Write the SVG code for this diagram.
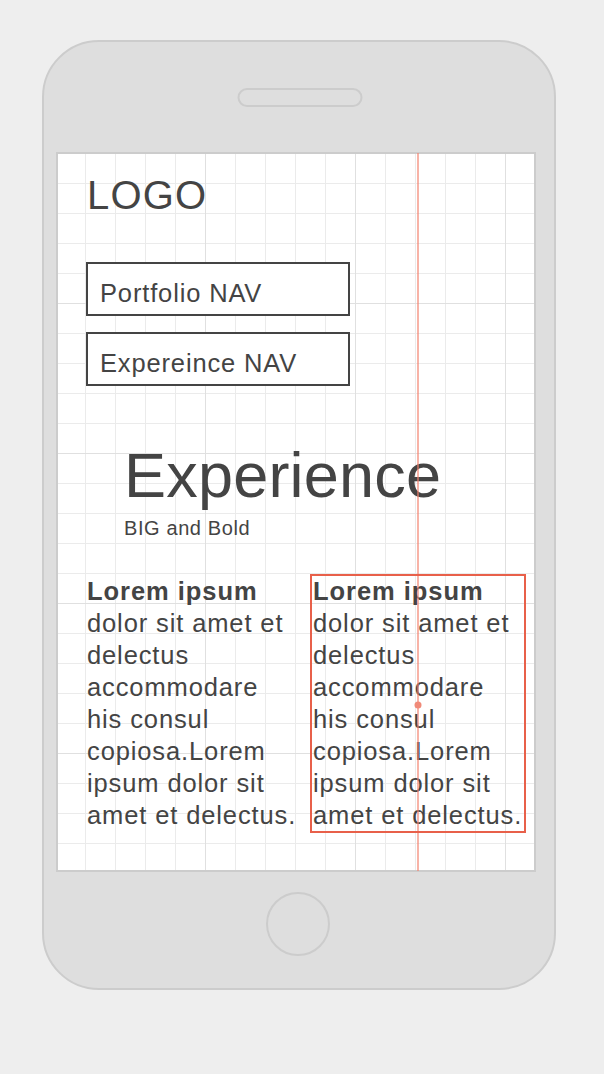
<svg xmlns="http://www.w3.org/2000/svg" width="604" height="1074" viewBox="0 0 604 1074">
  <defs>
    <pattern id="minor" x="55" y="153" width="30" height="30" patternUnits="userSpaceOnUse">
      <path d="M0 0V30M0 0H30" fill="none" stroke="#ebebeb" stroke-width="2"/>
    </pattern>
    <pattern id="major" x="55" y="153" width="150" height="150" patternUnits="userSpaceOnUse">
      <path d="M0 0V150M0 0H150" fill="none" stroke="#e0e0e0" stroke-width="2"/>
    </pattern>
  </defs>
  <style>
    text { font-family: "Liberation Sans", Arial, sans-serif; fill: #444; }
    .nav { fill: #fff; stroke: #444; stroke-width: 2; }
    .label { font-size: 25.5px; letter-spacing: 0.85px; }
    .body { font-size: 25.5px; letter-spacing: 0.88px; }
    .bold { font-weight: bold; letter-spacing: 0.95px; }
  </style>
  <rect width="604" height="1074" fill="#eeeeee"/>
  <!-- device frame -->
  <g id="device">
    <rect x="43" y="41" width="512" height="948" rx="56" fill="#dedede" stroke="#cccccc" stroke-width="2"/>
    <rect x="238.5" y="89" width="123" height="17" rx="8.5" fill="#dedede" stroke="#cccccc" stroke-width="2"/>
    <circle cx="298" cy="924" r="31" fill="#dedede" stroke="#cccccc" stroke-width="2"/>
  </g>
  <!-- screen with grid -->
  <g id="screen">
    <rect x="57" y="153" width="478" height="718" fill="#ffffff"/>
    <rect x="57" y="153" width="478" height="718" fill="url(#minor)"/>
    <rect x="57" y="153" width="478" height="718" fill="url(#major)"/>
    <rect x="57" y="153" width="478" height="718" fill="none" stroke="#cccccc" stroke-width="2"/>
  </g>
  <g id="logo">
    <text x="87" y="209" font-size="40" letter-spacing="1.2">LOGO</text>
  </g>
  <g id="portfolio-nav">
    <rect class="nav" x="87" y="263" width="262" height="52"/>
    <text class="label" x="100" y="302">Portfolio NAV</text>
  </g>
  <g id="experience-nav">
    <rect class="nav" x="87" y="333" width="262" height="52"/>
    <text class="label" x="100" y="372">Expereince NAV</text>
  </g>
  <g id="heading">
    <text x="124" y="497" font-size="63" letter-spacing="0.2">Experience</text>
    <text x="124" y="535" font-size="20" letter-spacing="0.6">BIG and Bold</text>
  </g>
  <g id="column-left" class="body">
    <text x="87" y="600" class="bold">Lorem ipsum</text>
    <text x="87" y="632">dolor sit amet et</text>
    <text x="87" y="664">delectus</text>
    <text x="87" y="696">accommodare</text>
    <text x="87" y="728">his consul</text>
    <text x="87" y="760">copiosa.Lorem</text>
    <text x="87" y="792">ipsum dolor sit</text>
    <text x="87" y="824">amet et delectus.</text>
  </g>
  <g id="column-right" class="body">
    <text x="313" y="600" class="bold">Lorem ipsum</text>
    <text x="313" y="632">dolor sit amet et</text>
    <text x="313" y="664">delectus</text>
    <text x="313" y="696">accommodare</text>
    <text x="313" y="728">his consul</text>
    <text x="313" y="760">copiosa.Lorem</text>
    <text x="313" y="792">ipsum dolor sit</text>
    <text x="313" y="824">amet et delectus.</text>
  </g>
  <!-- selection guide -->
  <g id="selection">
    <line x1="418" y1="153" x2="418" y2="871" stroke="#f4806c" stroke-opacity="0.6" stroke-width="2"/>
    <rect x="311" y="575" width="214" height="257" fill="none" stroke="#e8604a" stroke-width="2"/>
    <circle cx="418" cy="705" r="3.5" fill="#f08a78"/>
  </g>
</svg>
